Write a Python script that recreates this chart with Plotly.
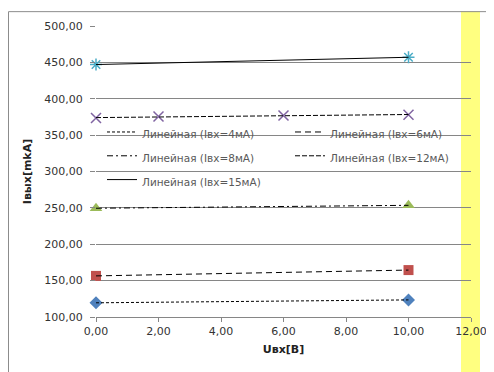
import numpy as np
import plotly.graph_objects as go

# Data
series_names = ["Iвх=4мА", "Iвх=6мА", "Iвх=8мА", "Iвх=12мА", "Iвх=15мА"]
x_4 = [0, 10]
y_4 = [119.5, 123.5]
x_6 = [0, 10]
y_6 = [156.5, 164.5]
x_8 = [0, 10]
y_8 = [249.5, 253.5]
x_12 = [0, 2, 6, 10]
y_12 = [373.5, 375.5, 377.0, 378.0]
x_15 = [0, 10]
y_15 = [447.0, 457.0]

xs = [x_4, x_6, x_8, x_12, x_15]
ys = [y_4, y_6, y_8, y_12, y_15]

marker_styles = [
    dict(symbol="diamond", color="#4F81BD", size=10),
    dict(symbol="square", color="#C0504D", size=10),
    dict(symbol="triangle-up", color="#9BBB59", size=11),
    dict(symbol="x-thin-open", color="#8064A2", size=10, line=dict(color="#8064A2", width=1.5)),
    dict(symbol="asterisk-open", color="#4BACC6", size=10, line=dict(color="#4BACC6", width=1.5)),
]
dashes = ["3px,2px", "6px,4px", "6px,3px,2px,3px", "5px,2px", "solid"]

fig = go.Figure()

for xv, yv, ms, nm in zip(xs, ys, marker_styles, series_names):
    fig.add_trace(go.Scatter(x=xv, y=yv, mode="markers", marker=ms, name=nm,
                             showlegend=False, hoverinfo="x+y", cliponaxis=False))

for xv, yv, d, nm in zip(xs, ys, dashes, series_names):
    k, b = np.polyfit(xv, yv, 1)
    tx = np.array([min(xv), max(xv)])
    fig.add_trace(go.Scatter(x=tx, y=k * tx + b, mode="lines",
                             line=dict(color="black", width=1, dash=d),
                             name='<span style="font-size:10.5px">Линейная (' + nm + ')</span>',
                             showlegend=True, cliponaxis=False))

L, R, T, B = 88, 31, 15, 63
W, H = 494, 372
pw, ph = W - L - R, H - T - B

def px(p):
    return (p - L) / pw

def py(q):
    return (H - B - q) / ph

fig.update_layout(
    width=W, height=H,
    margin=dict(l=L, r=R, t=T, b=B, pad=0),
    paper_bgcolor="white",
    plot_bgcolor="rgba(0,0,0,0)",
    font=dict(family="DejaVu Sans", size=11, color="#333333"),
    separators=",.",
    showlegend=True,
    legend=dict(orientation="h", x=px(94), y=py(105), xanchor="left", yanchor="top",
                entrywidth=143, entrywidthmode="pixels",
                font=dict(size=16, color="#595959"), bgcolor="rgba(0,0,0,0)",
                traceorder="normal"),
    shapes=[
        dict(type="rect", xref="paper", yref="paper", x0=px(453), x1=px(472),
             y0=py(372), y1=py(0), fillcolor="#FFFF80", line=dict(width=0), layer="below"),
        dict(type="rect", xref="paper", yref="paper", x0=px(0.5), x1=px(493.5),
             y0=py(371.5), y1=py(0.5), line=dict(color="#8C8C8C", width=1), layer="above"),
    ],
)

fig.update_xaxes(range=[0, 12], dtick=2, tickformat=".2f", showgrid=False,
                 zeroline=False, showline=True, linecolor="#868686", linewidth=1,
                 ticks="outside", ticklen=4, tickcolor="#868686",
                 tickfont=dict(size=11, color="#333333"),
                 title=dict(text="<b>Uвх[B]</b>", font=dict(size=11, color="#222222"), standoff=8))
fig.update_yaxes(range=[100, 500], dtick=50, tickformat=".2f", showgrid=True,
                 gridcolor="#868686", gridwidth=1, zeroline=False, showline=False,
                 ticks="outside", ticklen=5, tickcolor="#868686", ticklabelstandoff=5,
                 tickfont=dict(size=11, color="#333333"),
                 title=dict(text="<b>Iвых[mkA]</b>", font=dict(size=11, color="#222222"), standoff=10))

fig.write_html("out.html")
